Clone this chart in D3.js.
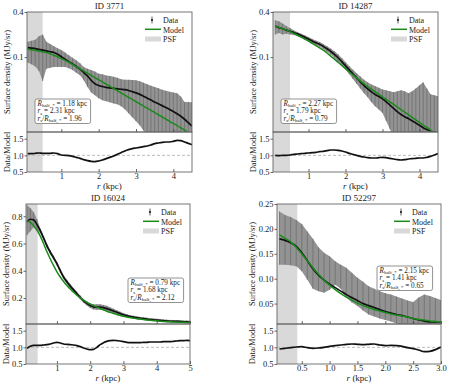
<!DOCTYPE html>
<html>
<head>
<meta charset="utf-8">
<script src="https://cdn.jsdelivr.net/npm/d3@7"></script>
<style>
  body { margin: 0; background: #fff; }
  svg { display: block; }
  text { font-family: "Liberation Serif", "Times New Roman", serif; fill: #222; }
</style>
</head>
<body>
<svg id="fig" width="449" height="384"></svg>
<script>
// radius grids (kpc)
var rA = [0.1,0.2,0.3,0.4,0.5,0.6,0.7,0.8,0.9,1.0,1.1,1.2,1.3,1.4,1.5,1.6,1.7,1.8,1.9,2.0,2.1,2.2,2.3,2.4,2.5,2.6,2.7,2.8,2.9,3.0,3.1,3.2,3.3,3.4,3.5,3.6,3.7,3.8,3.9,4.0,4.1,4.2,4.3,4.4,4.5];
var rB = [0.1,0.2,0.3,0.4,0.5,0.6,0.7,0.8,0.9,1.0,1.1,1.2,1.3,1.4,1.5,1.6,1.7,1.8,1.9,2.0,2.1,2.2,2.3,2.4,2.5,2.6,2.7,2.8,2.9,3.0,3.1,3.2,3.3,3.4,3.5,3.6,3.7,3.8,3.9,4.0,4.1,4.2,4.3,4.4,4.5,4.6,4.7,4.8,4.9,5.0];
var rC = [0.1,0.2,0.3,0.4,0.5,0.6,0.7,0.8,0.9,1.0,1.1,1.2,1.3,1.4,1.5,1.6,1.7,1.8,1.9,2.0,2.1,2.2,2.3,2.4,2.5,2.6,2.7,2.8,2.9,3.0];

// ID 3771
var data3771 = [0.134,0.132,0.130,0.127,0.124,0.121,0.118,0.115,0.109,0.101, 0.094,0.087,0.081,0.075,0.069,0.062,0.056,0.049,0.044,0.0418, 0.0405,0.0395,0.0388,0.0382,0.0377,0.0372,0.0367,0.0358,0.0346,0.0333, 0.0318,0.0300,0.0283,0.0267,0.0251,0.0238,0.0225,0.0212,0.0200,0.0188, 0.0175,0.0162,0.0148,0.0133,0.0120];
var hi3771 = [0.160,0.165,0.170,0.190,0.200,0.160,0.150,0.140,0.131,0.124, 0.115,0.106,0.098,0.091,0.083,0.074,0.070,0.067,0.064,0.060, 0.059,0.057,0.056,0.0545,0.053,0.0507,0.050,0.0497,0.0495,0.0492, 0.0477,0.0456,0.0435,0.0415,0.040,0.0385,0.0367,0.0355,0.0344,0.0337, 0.033,0.0297,0.0252,0.0252,0.025];
var lo3771 = [0.085,0.080,0.075,0.065,0.048,0.070,0.072,0.074,0.074,0.074, 0.074,0.071,0.067,0.0618,0.0574,0.049,0.040,0.0337,0.031,0.0282, 0.0265,0.0257,0.0249,0.0241,0.0234,0.0221,0.0202,0.0178,0.0157,0.0139, 0.0123,0.0105,0.009,0.008,0.007,0.006,0.005,0.005,0.004,0.004, 0.003,0.003,0.002,0.002,0.002];
var model3771 = [0.127,0.125,0.123,0.120,0.118,0.115,0.111,0.106,0.101,0.0955, 0.0905,0.0853,0.0797,0.0746,0.0698,0.0653,0.0610,0.0570,0.0533,0.0499, 0.0466,0.0436,0.0408,0.0381,0.0356,0.0333,0.0311,0.0291,0.0272,0.0255, 0.0238,0.0222,0.0208,0.0195,0.0182,0.0170,0.0159,0.0149,0.0139,0.0130, 0.0122,0.0114,0.0106,0.0099,0.0093];
var ratio3771 = [1.05,1.05,1.06,1.07,1.06,1.06,1.06,1.07,1.05,1.01, 1.00,0.99,0.97,0.94,0.91,0.87,0.84,0.82,0.81,0.83, 0.86,0.90,0.94,0.98,1.03,1.08,1.13,1.17,1.20,1.22, 1.24,1.26,1.28,1.31,1.35,1.37,1.39,1.40,1.40,1.42, 1.45,1.44,1.40,1.36,1.32];

// ID 14287
var data14287 = [0.260,0.247,0.239,0.229,0.221,0.213,0.204,0.194,0.184,0.174, 0.164,0.155,0.148,0.139,0.129,0.119,0.109,0.098,0.087,0.077, 0.0675,0.0596,0.0527,0.0467,0.0417,0.0377,0.0343,0.0317,0.0297,0.0277, 0.0253,0.0229,0.0207,0.0187,0.0171,0.0160,0.0151,0.0141,0.0132,0.0123, 0.0114,0.0108,0.0103,0.0099,0.0096];
var hi14287 = [0.31,0.30,0.28,0.26,0.245,0.228,0.216,0.205,0.195,0.185, 0.175,0.166,0.159,0.150,0.140,0.130,0.120,0.109,0.097,0.086, 0.076,0.068,0.061,0.055,0.050,0.046,0.043,0.041,0.039,0.037, 0.036,0.035,0.034,0.035,0.036,0.035,0.033,0.035,0.038,0.042, 0.046,0.038,0.032,0.031,0.030];
var lo14287 = [0.20,0.21,0.20,0.205,0.20,0.198,0.192,0.183,0.173,0.163, 0.153,0.144,0.137,0.128,0.118,0.108,0.098,0.087,0.077,0.068, 0.059,0.051,0.044,0.038,0.033,0.029,0.025,0.022,0.020,0.018, 0.014,0.011,0.008,0.004,0.002,0.001,0.001,0.001,0.001,0.001, 0.001,0.001,0.001,0.001,0.001];
var model14287 = [0.260,0.249,0.239,0.229,0.219,0.207,0.196,0.185,0.174,0.163, 0.152,0.142,0.133,0.124,0.1135,0.103,0.094,0.0853,0.0773,0.070, 0.0637,0.0579,0.0527,0.0481,0.0439,0.0405,0.0373,0.0345,0.0319,0.0295, 0.0272,0.0252,0.0233,0.0215,0.0199,0.0184,0.0170,0.0157,0.0145,0.0134, 0.0124,0.0115,0.0106,0.0098,0.0091];
var ratio14287 = [1.00,0.99,1.00,1.00,1.01,1.03,1.04,1.05,1.06,1.07, 1.08,1.09,1.11,1.12,1.14,1.16,1.16,1.15,1.13,1.10, 1.06,1.03,1.00,0.97,0.95,0.93,0.92,0.92,0.93,0.94, 0.93,0.91,0.89,0.87,0.86,0.87,0.89,0.90,0.91,0.92, 0.92,0.94,0.97,1.01,1.05];

// ID 16024
var data16024 = [0.760,0.778,0.774,0.739,0.694,0.640,0.583,0.536,0.495,0.452, 0.401,0.354,0.319,0.288,0.260,0.232,0.205,0.180,0.161,0.145, 0.136,0.134,0.134,0.130,0.123,0.114,0.105,0.096,0.087,0.078, 0.071,0.065,0.060,0.056,0.052,0.049,0.046,0.043,0.041,0.038, 0.036,0.034,0.032,0.030,0.030,0.029,0.028,0.026,0.025,0.024];
var hi16024 = [0.88,0.86,0.83,0.78,0.71,0.655,0.598,0.551,0.510,0.467, 0.416,0.369,0.334,0.303,0.274,0.246,0.219,0.194,0.176,0.162, 0.155,0.154,0.154,0.150,0.143,0.133,0.122,0.111,0.100,0.090, 0.082,0.075,0.070,0.066,0.062,0.059,0.056,0.053,0.051,0.048, 0.046,0.044,0.042,0.040,0.040,0.039,0.038,0.036,0.035,0.034];
var lo16024 = [0.66,0.69,0.72,0.70,0.675,0.625,0.568,0.521,0.480,0.437, 0.386,0.339,0.304,0.273,0.246,0.218,0.191,0.166,0.146,0.128, 0.117,0.114,0.114,0.110,0.103,0.095,0.088,0.081,0.074,0.066, 0.060,0.055,0.050,0.046,0.042,0.039,0.036,0.033,0.031,0.028, 0.026,0.024,0.022,0.020,0.020,0.019,0.018,0.016,0.015,0.014];
var model16024 = [0.765,0.755,0.730,0.697,0.655,0.598,0.540,0.487,0.438,0.393, 0.355,0.322,0.293,0.267,0.243,0.221,0.201,0.184,0.169,0.156, 0.145,0.134,0.124,0.114,0.104,0.095,0.087,0.080,0.073,0.067, 0.062,0.057,0.053,0.049,0.046,0.043,0.040,0.037,0.035,0.033, 0.031,0.029,0.027,0.026,0.025,0.024,0.023,0.022,0.021,0.020];
var ratio16024 = [0.97,1.03,1.06,1.06,1.06,1.07,1.08,1.10,1.13,1.15, 1.13,1.10,1.09,1.08,1.07,1.05,1.02,0.98,0.95,0.93, 0.94,1.00,1.08,1.14,1.18,1.20,1.21,1.20,1.19,1.17, 1.15,1.14,1.14,1.14,1.14,1.15,1.15,1.16,1.16,1.16, 1.16,1.17,1.17,1.17,1.18,1.19,1.20,1.20,1.21,1.20];

// ID 52297
var data52297 = [0.180,0.177,0.172,0.165,0.152,0.136,0.120,0.107,0.097,0.089, 0.082,0.075,0.068,0.062,0.056,0.050,0.046,0.042,0.038,0.034, 0.031,0.028,0.026,0.023,0.020,0.017,0.015,0.013,0.013,0.013];
var hi52297 = [0.235,0.228,0.224,0.218,0.210,0.195,0.180,0.163,0.152,0.145, 0.135,0.128,0.122,0.112,0.102,0.094,0.085,0.080,0.075,0.071, 0.068,0.064,0.060,0.056,0.053,0.062,0.068,0.065,0.061,0.057];
var lo52297 = [0.128,0.128,0.127,0.125,0.115,0.098,0.080,0.075,0.072,0.078, 0.088,0.080,0.062,0.052,0.045,0.036,0.028,0.024,0.020,0.017, 0.014,0.010,0.006,0.004,0.002,0.0,0.0,0.0,0.0,0.0];
var model52297 = [0.188,0.181,0.174,0.163,0.150,0.136,0.122,0.109,0.097,0.087, 0.078,0.070,0.063,0.057,0.051,0.046,0.042,0.038,0.035,0.032, 0.029,0.027,0.025,0.023,0.020,0.018,0.017,0.015,0.014,0.013];
var ratio52297 = [0.95,0.97,0.99,1.01,1.02,0.99,0.97,0.98,1.00,1.03, 1.05,1.07,1.09,1.10,1.09,1.08,1.09,1.10,1.07,1.05, 1.06,1.05,1.03,0.99,0.96,0.92,0.87,0.88,0.93,1.01];

var ids = ["3771", "14287", "16024", "52297"];
var rHalf = ["1.18", "2.27", "0.79", "2.15"];
var rS = ["2.31", "1.79", "1.68", "1.41"];
var rRatio = ["1.96", "0.79", "2.12", "0.65"];
var psfEdge = [0.5, 0.5, 0.42, 0.42];

var svg = d3.select("#fig");
var serif = "'Liberation Serif', 'Times New Roman', serif";

function styleAxis(g) {
  g.attr("font-family", serif).attr("font-size", 8.5).attr("color", "#333");
  g.select(".domain").remove();
  g.selectAll(".tick line").attr("stroke", "#444").attr("stroke-width", 0.8);
}

// write a line made of [text, kind] parts: kind "i" italic, "s" subscript
function richLine(t, parts, sub) {
  var shifted = false;
  parts.forEach(function (p) {
    var ts = t.append("tspan").text(p[0]);
    if (p[1] === "i") ts.attr("font-style", "italic");
    if (p[1] === "s") {
      ts.attr("font-size", sub).attr("dy", shifted ? 0 : 1.8);
      shifted = true;
    } else if (shifted) {
      ts.attr("dy", -1.8);
      shifted = false;
    }
  });
}

function panel(c, k) {
  var x = d3.scaleLinear().domain(c.xd).range([c.l, c.r]);
  var y = (c.log ? d3.scaleLog() : d3.scaleLinear()).domain(c.yd).range([c.m, c.t]);
  var yr = d3.scaleLinear().domain([0.5, 1.7]).range([c.b, c.m]);
  var floor = c.yd[0] * 0.5;

  var cid = "clip" + k;
  svg.append("clipPath").attr("id", cid).append("rect")
    .attr("x", c.l).attr("y", c.t).attr("width", c.r - c.l).attr("height", c.m - c.t);
  svg.append("clipPath").attr("id", cid + "r").append("rect")
    .attr("x", c.l).attr("y", c.m).attr("width", c.r - c.l).attr("height", c.b - c.m);

  var pts = c.rr.map(function (r, i) {
    return { r: r, v: c.data[i], lo: Math.max(c.lo[i], floor), hi: c.hi[i], m: c.model[i], q: c.ratio[i] };
  });

  // PSF region
  svg.append("rect").attr("x", c.l).attr("y", c.t)
    .attr("width", x(c.psf) - c.l).attr("height", c.b - c.t)
    .attr("fill", "#d9d9d9");

  var g = svg.append("g").attr("clip-path", "url(#" + cid + ")");
  g.append("path").datum(pts)
    .attr("d", d3.area().x(function (d) { return x(d.r); })
      .y0(function (d) { return y(d.lo); }).y1(function (d) { return y(d.hi); }))
    .attr("fill", "#939393");
  g.selectAll("line.eb").data(pts).enter().append("line")
    .attr("class", "eb")
    .attr("x1", function (d) { return x(d.r); }).attr("x2", function (d) { return x(d.r); })
    .attr("y1", function (d) { return y(d.lo); }).attr("y2", function (d) { return y(d.hi); })
    .attr("stroke", "#6f6f6f").attr("stroke-width", 0.8);
  g.append("path").datum(pts)
    .attr("d", d3.line().curve(d3.curveMonotoneX).x(function (d) { return x(d.r); }).y(function (d) { return y(d.v); }))
    .attr("fill", "none").attr("stroke", "#111").attr("stroke-width", 1.7);
  g.append("path").datum(pts)
    .attr("d", d3.line().curve(d3.curveMonotoneX).x(function (d) { return x(d.r); }).y(function (d) { return y(d.m); }))
    .attr("fill", "none").attr("stroke", "#1a8a1a").attr("stroke-width", 1.5);

  // ratio panel
  var gr = svg.append("g").attr("clip-path", "url(#" + cid + "r)");
  gr.append("line").attr("x1", c.l).attr("x2", c.r).attr("y1", yr(1)).attr("y2", yr(1))
    .attr("stroke", "#bbb").attr("stroke-width", 1).attr("stroke-dasharray", "3,2");
  gr.append("path").datum(pts)
    .attr("d", d3.line().curve(d3.curveMonotoneX).x(function (d) { return x(d.r); }).y(function (d) { return yr(d.q); }))
    .attr("fill", "none").attr("stroke", "#111").attr("stroke-width", 1.7);

  // frames
  [[c.t, c.m], [c.m, c.b]].forEach(function (s) {
    svg.append("rect").attr("x", c.l).attr("y", s[0]).attr("width", c.r - c.l).attr("height", s[1] - s[0])
      .attr("fill", "none").attr("stroke", "#666").attr("stroke-width", 0.9);
  });

  // axes
  svg.append("g").attr("transform", "translate(" + c.l + ",0)")
    .call(d3.axisLeft(y).tickValues(c.yt).tickFormat(d3.format(c.yf)).tickSize(2.5).tickPadding(1))
    .call(styleAxis);
  svg.append("g").attr("transform", "translate(0," + c.m + ")")
    .call(d3.axisBottom(x).tickValues(c.xt).tickFormat("").tickSize(-3))
    .call(styleAxis);
  svg.append("g").attr("transform", "translate(" + c.l + ",0)")
    .call(d3.axisLeft(yr).tickValues([0.5, 1.0, 1.5]).tickFormat(d3.format(".1f")).tickSize(2.5).tickPadding(1))
    .call(styleAxis);
  svg.append("g").attr("transform", "translate(0," + c.b + ")")
    .call(d3.axisBottom(x).tickValues(c.xt).tickFormat(d3.format(c.xf)).tickSize(-3).tickPadding(1))
    .call(styleAxis);

  // labels
  var cx = (c.l + c.r) / 2;
  svg.append("text").attr("x", cx).attr("y", c.t - 3).attr("text-anchor", "middle")
    .attr("font-size", 9).text("ID " + ids[k]);
  var xl = svg.append("text").attr("x", cx).attr("y", c.b + 16.5).attr("text-anchor", "middle").attr("font-size", 9);
  richLine(xl, [["r", "i"], [" (kpc)", ""]], 9);
  svg.append("text").attr("transform", "translate(" + c.ylx + "," + (c.t + c.m) / 2 + ") rotate(-90)")
    .attr("text-anchor", "middle").attr("dy", "0.35em").attr("font-size", 8.5)
    .text("Surface density (MJy/sr)");
  svg.append("text").attr("transform", "translate(" + c.ylx + "," + (c.m + c.b) / 2 + ") rotate(-90)")
    .attr("text-anchor", "middle").attr("dy", "0.35em").attr("font-size", 8.5)
    .text("Data/Model");

  // legend
  var lx = c.r - 29;
  svg.append("line").attr("x1", c.r - 40).attr("x2", c.r - 40).attr("y1", c.t + 4.5).attr("y2", c.t + 11.5)
    .attr("stroke", "#333").attr("stroke-width", 0.8);
  svg.append("circle").attr("cx", c.r - 40).attr("cy", c.t + 8).attr("r", 1).attr("fill", "#111");
  svg.append("line").attr("x1", c.r - 47).attr("x2", c.r - 31).attr("y1", c.t + 17.3).attr("y2", c.t + 17.3)
    .attr("stroke", "#1a8a1a").attr("stroke-width", 1.5);
  svg.append("rect").attr("x", c.r - 47).attr("y", c.t + 24.5).attr("width", 16).attr("height", 5)
    .attr("fill", "#d9d9d9");
  ["Data", "Model", "PSF"].forEach(function (s, i) {
    svg.append("text").attr("x", lx).attr("y", c.t + 11 + i * 9.6).attr("font-size", 8).text(s);
  });

  // parameter box
  var bg = svg.append("g");
  var box = bg.append("rect").attr("x", c.bx).attr("y", c.by).attr("rx", 2)
    .attr("fill", "#fff").attr("stroke", "#777").attr("stroke-width", 0.8);
  var fs = 7.2, sub = 5;
  var t1 = bg.append("text").attr("x", c.bx + 2.5).attr("y", c.by + 6.6).attr("font-size", fs);
  richLine(t1, [["R", "i"], ["half, *", "s"], [" = " + rHalf[k] + " kpc", ""]], sub);
  var t2 = bg.append("text").attr("x", c.bx + 2.5).attr("y", c.by + 14.1).attr("font-size", fs);
  richLine(t2, [["r", "i"], ["s", "s"], [" = " + rS[k] + " kpc", ""]], sub);
  var t3 = bg.append("text").attr("x", c.bx + 2.5).attr("y", c.by + 21.6).attr("font-size", fs);
  richLine(t3, [["r", "i"], ["s", "s"], ["/", ""], ["R", "i"], ["half, *", "s"], [" = " + rRatio[k], ""]], sub);
  var w = d3.max([t1, t2, t3], function (t) { return t.node().getBBox().width; });
  box.attr("width", w + 5).attr("height", 24.5);
}

var panels = [
  { rr: rA, data: data3771, hi: hi3771, lo: lo3771, model: model3771, ratio: ratio3771,
    l: 27, r: 192, t: 12, m: 132, b: 172, xd: [0.08, 4.5], log: true, yd: [0.01, 0.4],
    yt: [0.1, 0.4], yf: ".1f", xt: [1, 2, 3, 4], xf: "d", ylx: 7, bx: 35, by: 99 },
  { rr: rA, data: data14287, hi: hi14287, lo: lo14287, model: model14287, ratio: ratio14287,
    l: 273, r: 438, t: 12, m: 132, b: 172, xd: [0.04, 4.5], log: true, yd: [0.01, 0.4],
    yt: [0.1, 0.4], yf: ".1f", xt: [1, 2, 3, 4], xf: "d", ylx: 253, bx: 281, by: 99 },
  { rr: rB, data: data16024, hi: hi16024, lo: lo16024, model: model16024, ratio: ratio16024,
    l: 26, r: 190, t: 204, m: 324, b: 364, xd: [0.07, 5.0], log: false, yd: [0.01, 0.89],
    yt: [0.2, 0.4, 0.6, 0.8], yf: ".1f", xt: [1, 2, 3, 4, 5], xf: "d", ylx: 6, bx: 128, by: 278 },
  { rr: rC, data: data52297, hi: hi52297, lo: lo52297, model: model52297, ratio: ratio52297,
    l: 277, r: 441, t: 204, m: 324, b: 364, xd: [0.055, 3.0], log: false, yd: [0.009, 0.25],
    yt: [0.05, 0.10, 0.15, 0.20, 0.25], yf: ".2f", xt: [0.5, 1.0, 1.5, 2.0, 2.5, 3.0], xf: ".1f", ylx: 252, bx: 377, by: 266 }
];
panels.forEach(function (c, k) { c.psf = psfEdge[k]; panel(c, k); });
</script>
</body>
</html>
